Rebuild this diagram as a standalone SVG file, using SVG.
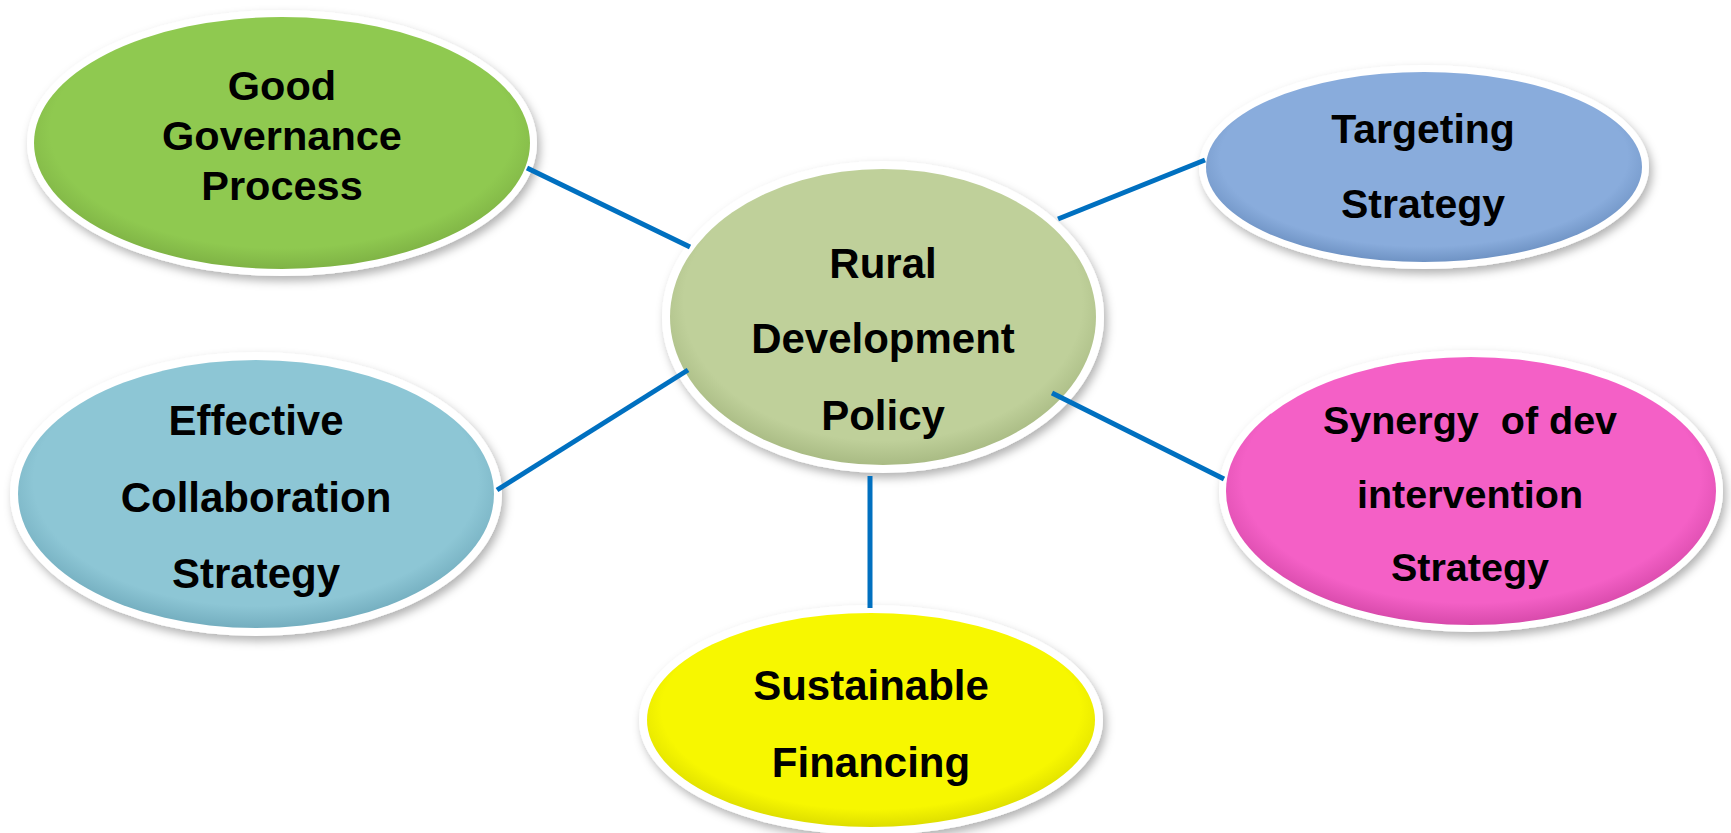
<svg xmlns="http://www.w3.org/2000/svg" width="1731" height="833" viewBox="0 0 1731 833">
  <defs>
    <filter id="shadow" x="-10%" y="-10%" width="125%" height="130%">
      <feDropShadow dx="3" dy="5" stdDeviation="5" flood-color="#000" flood-opacity="0.3"/>
    </filter>
    <filter id="soft" x="-5%" y="-200%" width="110%" height="500%">
      <feGaussianBlur stdDeviation="1.2"/>
    </filter>
    <radialGradient id="gGreen" cx="50%" cy="45%" r="55%">
      <stop offset="0.85" stop-color="#8fc950"/>
      <stop offset="1" stop-color="#7fb345"/>
    </radialGradient>
    <radialGradient id="gCenter" cx="50%" cy="45%" r="55%">
      <stop offset="0.85" stop-color="#bfd09a"/>
      <stop offset="1" stop-color="#a9bb84"/>
    </radialGradient>
    <radialGradient id="gBlue" cx="50%" cy="45%" r="55%">
      <stop offset="0.85" stop-color="#89acdc"/>
      <stop offset="1" stop-color="#6f93c4"/>
    </radialGradient>
    <radialGradient id="gCyan" cx="50%" cy="45%" r="55%">
      <stop offset="0.85" stop-color="#8dc6d5"/>
      <stop offset="1" stop-color="#74aebf"/>
    </radialGradient>
    <radialGradient id="gPink" cx="50%" cy="45%" r="55%">
      <stop offset="0.85" stop-color="#f460c6"/>
      <stop offset="1" stop-color="#d84aab"/>
    </radialGradient>
    <radialGradient id="gYellow" cx="50%" cy="45%" r="55%">
      <stop offset="0.85" stop-color="#f7f700"/>
      <stop offset="1" stop-color="#dede00"/>
    </radialGradient>
  </defs>
  <style>
    .rim { fill: #ffffff; filter: url(#shadow); }
    .lbl { font-family: "Liberation Sans", Arial, sans-serif; font-weight: bold; fill: #000000; text-anchor: middle; }
    .conn line { stroke: #0070c0; stroke-width: 5; }
  </style>
  <rect width="1731" height="833" fill="#ffffff"/>
  <line x1="522" y1="1" x2="1215" y2="1" stroke="#d8d8d8" stroke-width="3" stroke-dasharray="25 16.7" filter="url(#soft)"/>

  <g id="node-good-governance">
    <ellipse class="rim" cx="282" cy="143" rx="255" ry="133"/>
    <ellipse cx="282" cy="143" rx="248" ry="126" fill="url(#gGreen)"/>
    <text class="lbl" font-size="41.5" x="282" y="100">Good</text>
    <text class="lbl" font-size="41.5" x="282" y="150">Governance</text>
    <text class="lbl" font-size="41.5" x="282" y="200">Process</text>
  </g>

  <g id="node-rural-development">
    <ellipse class="rim" cx="883" cy="317" rx="221" ry="156"/>
    <ellipse cx="883" cy="317" rx="213" ry="148" fill="url(#gCenter)"/>
    <text class="lbl" font-size="42" x="883" y="278">Rural</text>
    <text class="lbl" font-size="42" x="883" y="353">Development</text>
    <text class="lbl" font-size="42" x="883" y="430">Policy</text>
  </g>

  <g id="node-targeting">
    <ellipse class="rim" cx="1424" cy="167" rx="225" ry="102"/>
    <ellipse cx="1424" cy="167" rx="218" ry="95" fill="url(#gBlue)"/>
    <text class="lbl" font-size="41" x="1423" y="143">Targeting</text>
    <text class="lbl" font-size="41" x="1423" y="218">Strategy</text>
  </g>

  <g id="node-effective-collaboration">
    <ellipse class="rim" cx="256" cy="494" rx="246" ry="142"/>
    <ellipse cx="256" cy="494" rx="238" ry="134" fill="url(#gCyan)"/>
    <text class="lbl" font-size="42" x="256" y="435">Effective</text>
    <text class="lbl" font-size="42" x="256" y="512">Collaboration</text>
    <text class="lbl" font-size="42" x="256" y="588">Strategy</text>
  </g>

  <g id="node-synergy">
    <ellipse class="rim" cx="1471" cy="491" rx="252" ry="141"/>
    <ellipse cx="1471" cy="491" rx="245" ry="134" fill="url(#gPink)"/>
    <text class="lbl" font-size="39.5" x="1470" y="434" xml:space="preserve">Synergy  of dev</text>
    <text class="lbl" font-size="39.5" x="1470" y="508">intervention</text>
    <text class="lbl" font-size="39.5" x="1470" y="581">Strategy</text>
  </g>

  <g id="node-sustainable-financing">
    <ellipse class="rim" cx="871" cy="720" rx="232" ry="115"/>
    <ellipse cx="871" cy="720" rx="224" ry="107" fill="url(#gYellow)"/>
    <text class="lbl" font-size="42" x="871" y="700">Sustainable</text>
    <text class="lbl" font-size="42" x="871" y="777">Financing</text>
  </g>

  <g id="connectors" class="conn">
    <line x1="527" y1="168" x2="690" y2="247"/>
    <line x1="1058" y1="219" x2="1205" y2="160"/>
    <line x1="497" y1="490" x2="688" y2="370"/>
    <line x1="1052" y1="393" x2="1224" y2="479"/>
    <line x1="870" y1="476" x2="870" y2="608" stroke-width="6"/>
  </g>
</svg>
